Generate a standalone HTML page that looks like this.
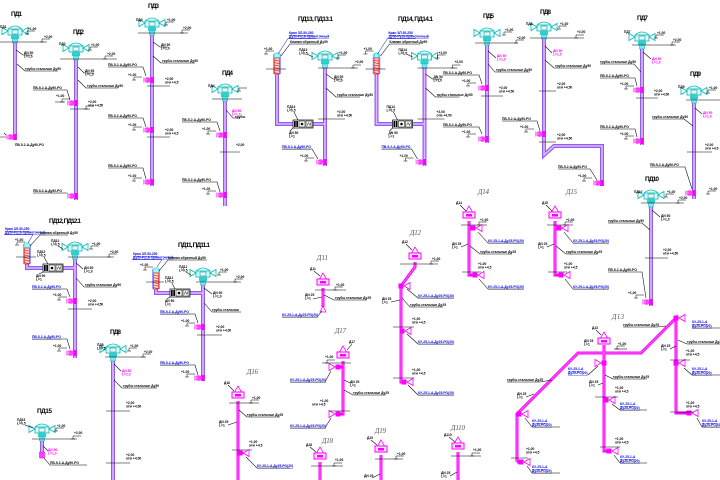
<!DOCTYPE html>
<html><head><meta charset="utf-8">
<style>
html,body{margin:0;padding:0;background:#fff;width:720px;height:480px;overflow:hidden}
svg{display:block}
.k{stroke:#000;stroke-width:.55;fill:none}
.s{font-family:"Liberation Sans",sans-serif;font-size:3.3px;font-weight:bold;fill:#000}
.sb{font-family:"Liberation Sans",sans-serif;font-size:3.3px;font-weight:bold;fill:#0000e0;text-decoration:underline}
.sm{font-family:"Liberation Sans",sans-serif;font-size:3.3px;font-weight:bold;fill:#ff00ff}
.ti{font-family:"Liberation Sans",sans-serif;font-size:6.5px;font-weight:bold;fill:#000}
.td{font-family:"Liberation Serif",serif;font-size:7px;font-style:italic;fill:#555}
.pd{stroke:#8a60f0;stroke-width:4;fill:none}
.pdi{stroke:#eab8ff;stroke-width:1.6;fill:none}
.dm{stroke:#ff00ff;stroke-width:3;fill:none}
.dmi{stroke:#ff7dff;stroke-width:.8;fill:none}
.bl{stroke:#0000e0;stroke-width:.5;fill:none}
</style></head>
<body>
<svg width="720" height="480" viewBox="0 0 720 480" xmlns="http://www.w3.org/2000/svg">
<defs>
 <g id="hc">
  <path d="M-7,-4 Q0,-10 7,-4" fill="#dffcfc" stroke="#00b8b8" stroke-width=".8"/>
  <rect x="-7" y="-4" width="14" height="6" fill="#dffcfc" stroke="#00b8b8" stroke-width=".8"/>
  <rect x="-3" y="-3" width="6" height="4" fill="none" stroke="#008080" stroke-width=".5"/>
  <polygon points="-13,-5.5 -13,1.5 -7,-2" fill="none" stroke="#00b8b8" stroke-width=".8"/>
  <polygon points="13,-5.5 13,1.5 7,-2" fill="none" stroke="#00b8b8" stroke-width=".8"/>
  <rect x="-4" y="2" width="8" height="4" fill="#30d0d0"/>
  <rect x="-2.5" y="6" width="5" height="4" fill="#80eaea" stroke="#00b8b8" stroke-width=".5"/>
 </g>
 <g id="hm">
  <polygon points="0,-11 -3.5,-5 3.5,-5" fill="#fff" stroke="#ff00ff" stroke-width=".8"/>
  <rect x="-6" y="-5" width="12" height="6" fill="#ffe8ff" stroke="#ff00ff" stroke-width="1"/>
  <rect x="-3" y="-3" width="6" height="2.5" fill="#ff00ff"/>
 </g>
 <g id="tr">
  <rect x="-2.5" y="-2.5" width="5" height="5" fill="#ff00ff"/>
  <polygon points="3,0 9,-3.5 9,3.5" fill="#fff" stroke="#ff00ff" stroke-width=".8"/>
 </g>
 <g id="tl">
  <rect x="-2.5" y="-2.5" width="5" height="5" fill="#ff00ff"/>
  <polygon points="-3,0 -9,-3.5 -9,3.5" fill="#fff" stroke="#ff00ff" stroke-width=".8"/>
 </g>
 <g id="mv">
  <ellipse cx="-4.5" cy="0" rx="3.3" ry="2.8" fill="#ff40ff"/>
  <polygon points="-9,-3 -9,3 -5,0" fill="#ff90ff"/>
  <rect x="-1.5" y="-3" width="3" height="6" fill="#ff00ff"/>
 </g>
 <g id="lv"><path d="M-2,0 h4 M0,0 v-3 h8" fill="none" stroke="#000" stroke-width=".5"/></g>
 <g id="bx">
  <rect x="0" y="0" width="20" height="8" fill="#fff" stroke="#000" stroke-width=".7"/>
  <rect x="1" y="1" width="4" height="6" fill="#000"/>
  <line x1="3" y1="1" x2="3" y2="7" stroke="#fff" stroke-width=".6"/>
  <rect x="6" y="1" width="6" height="6" fill="none" stroke="#000" stroke-width=".5"/>
  <circle cx="9" cy="4" r="1.3" fill="#000"/>
  <rect x="13" y="1" width="6" height="6" fill="none" stroke="#000" stroke-width=".5"/>
  <path d="M14,5.5 l1.5,-3 l1.5,3 l1,-3" stroke="#000" stroke-width=".5" fill="none"/>
 </g>
 <g id="rh">
  <rect x="-2.2" y="-5" width="4.4" height="5" fill="#9ff" stroke="#00b8b8" stroke-width=".5"/>
  <rect x="-2.5" y="0" width="5" height="16" fill="#ffd8d8" stroke="#e00000" stroke-width=".6"/>
  <path d="M-2.5,2 l5,1.2 M-2.5,4.5 l5,1.2 M-2.5,7 l5,1.2 M-2.5,9.5 l5,1.2 M-2.5,12 l5,1.2 M-2.5,14.5 l5,1.2" stroke="#e00000" stroke-width=".6"/>
  <path d="M-3.4,-4 V16 M3.4,-4 V16" stroke="#2040ff" stroke-width=".5"/>
 </g>
</defs>

<!-- ================= ПД1 ================= -->
<text class="ti" x="11" y="16" textLength="11">ПД1</text>
<path class="pd" d="M15,43V140"/><path class="pdi" d="M15,43V140"/>
<use href="#hc" x="15" y="33"/>
<path class="k" d="M0,42H47 M0,137H8 M4,133 l4,4"/>
<use href="#lv" x="27" y="34"/><text class="s" x="28" y="30">+1,00</text>
<use href="#lv" x="42" y="42"/><text class="s" x="44" y="38">+2,00</text>
<text class="s" x="0" y="28">ПД1</text>
<path class="k" d="M16,50 L23,55 H32 M17,64 L25,71 H58"/>
<text class="s" x="24" y="54">ДN 50</text><text class="s" x="24" y="57.5">L=1,0</text>
<text class="s" x="25" y="70">трубы стальные Ду50</text>
<use href="#mv" x="15" y="137"/>
<text class="s" x="15" y="146">ПВ-5-2-А-Ду50-РО</text>

<!-- ================= ПД2 ================= -->
<text class="ti" x="73" y="34" textLength="11">ПД2</text>
<path class="pd" d="M76,59V200"/><path class="pdi" d="M76,59V200"/>
<use href="#hc" x="76" y="50"/>
<path class="k" d="M60,59H117"/>
<use href="#lv" x="90" y="50"/><text class="s" x="91" y="46">+1,00</text>
<use href="#lv" x="105" y="59"/><text class="s" x="107" y="55">+2,00</text>
<text class="s" x="59" y="45">ПД2</text>
<path class="k" d="M78,67 L84,73 H94 M78,80 L86,88 H118"/>
<text class="s" x="85" y="72">ДN 50</text><text class="s" x="85" y="75.5">L=1,0</text>
<text class="s" x="87" y="87">трубы стальные Ду50</text>
<text class="s" x="33" y="89">ПВ-5-2-А-Ду50-РО</text>
<path class="k" d="M33,90 H67 L70,100 M55,102 h10"/>
<use href="#lv" x="62" y="102"/><text class="s" x="56" y="97">+1,00</text>
<use href="#mv" x="76" y="103"/>
<path class="k" d="M70,109H90"/><use href="#lv" x="86" y="109"/><text class="s" x="88" y="103">+2,00</text><text class="s" x="88" y="106.5">отм +4,50</text>
<text class="s" x="33" y="192">ПВ-5-2-А-Ду50-РО</text>
<path class="k" d="M33,193 H67 L71,197"/>
<use href="#mv" x="76" y="196"/>

<!-- ================= ПД3 ================= -->
<text class="ti" x="148" y="8" textLength="11">ПД3</text>
<path class="pd" d="M152,33V186"/><path class="pdi" d="M152,33V186"/>
<use href="#hc" x="152" y="25"/>
<path class="k" d="M138,33H188"/>
<text class="s" x="136" y="21">ПД3</text>
<use href="#lv" x="166" y="25"/><text class="s" x="167" y="21">+1,00</text>
<use href="#lv" x="182" y="33"/><text class="s" x="183" y="29">+2,00</text>
<path class="k" d="M153,42 L160,47 H168 M153,56 L161,63 H195"/>
<text class="s" x="161" y="46">ДN 50</text><text class="s" x="161" y="49.5">L=1,0</text>
<text class="s" x="162" y="62">трубы стальные Ду50</text>
<text class="s" x="108" y="66">ПВ-5-2-А-Ду50-РО</text><path class="k" d="M108,67H143 L146,76"/>
<text class="s" x="128" y="76">+1,00</text><use href="#lv" x="134" y="80"/>
<use href="#mv" x="152" y="80"/>
<path class="k" d="M147,86H170"/><text class="s" x="165" y="80">+2,00</text><text class="s" x="165" y="83.5">отм +4,5</text>
<text class="s" x="108" y="117">ПВ-5-2-А-Ду50-РО</text><path class="k" d="M108,118H143 L146,127"/>
<text class="s" x="128" y="126">+1,00</text><use href="#lv" x="134" y="130"/>
<use href="#mv" x="152" y="130"/>
<path class="k" d="M147,137H170"/><text class="s" x="165" y="131">+2,00</text><text class="s" x="165" y="134.5">отм +4,5</text>
<text class="s" x="108" y="167">ПВ-5-2-А-Ду50-РО</text><path class="k" d="M108,168H143 L146,179"/>
<text class="s" x="128" y="177">+1,00</text><use href="#lv" x="134" y="181"/>
<use href="#mv" x="152" y="182"/>

<!-- ================= ПД4 ================= -->
<text class="ti" x="222" y="75" textLength="11">ПД4</text>
<path class="pd" d="M225,99V206"/><path class="pdi" d="M225,99V206"/>
<use href="#hc" x="225" y="91"/>
<path class="k" d="M212,99H242"/>
<text class="s" x="208" y="87">ПД4</text>
<use href="#lv" x="239" y="91"/>
<text class="sm" x="232" y="112">ДN 50</text><text class="sm" x="232" y="115.5">L=1,0</text>
<path class="k" d="M226,110 L233,118 H240"/>
<text class="s" x="235" y="118">трубы</text>
<text class="s" x="182" y="121">ПВ-5-2-А-Ду50-РО</text><path class="k" d="M182,122H217 L220,131"/>
<text class="s" x="202" y="130">+1,00</text><use href="#lv" x="208" y="134"/>
<use href="#mv" x="225" y="135"/>
<path class="k" d="M220,152H240"/><text class="s" x="236" y="146">+2,00</text>
<text class="s" x="182" y="181">ПВ-5-2-А-Ду50-РО</text><path class="k" d="M182,182H217 L220,192"/>
<text class="s" x="202" y="190">+1,00</text><use href="#lv" x="208" y="194"/>
<use href="#mv" x="225" y="195"/>

<!-- ================= ПД13 ================= -->
<g id="pd13">
<text class="ti" x="298" y="21" textLength="35">ПД13, ПД13.1</text>
<path class="pd" d="M277,60V124H325 M325,68V166"/><path class="pdi" d="M277,60V124H325 M325,68V166"/>
<use href="#rh" x="277" y="58"/>
<path class="k" d="M266,69H286"/>
<text class="sb" x="289" y="34">Кран ЗЛ-50-250</text><text class="sb" x="289" y="37.5">Ду50-Ру16-прямоточный</text>
<path class="bl" d="M288,38.5H316 M288,38.5 L278,54"/>
<text class="s" x="290" y="43">Клапан обратный Ду50</text><path class="k" d="M290,44H321 M290,44 L281,56"/>
<text class="s" x="264" y="50">+1,00</text><use href="#lv" x="266" y="54"/>
<use href="#hc" x="325" y="58"/>
<path class="k" d="M318,68H358"/>
<text class="s" x="299" y="51">ПД13</text><text class="s" x="299" y="54.5">L=0,5</text>
<path class="k" d="M307,54 L313,57"/>
<use href="#lv" x="338" y="58"/><text class="s" x="339" y="54">+1,00</text>
<use href="#lv" x="353" y="68"/><text class="s" x="355" y="63">+2,00</text>
<path class="k" d="M326,74 L333,79 H342 M326,88 L336,97 H360"/>
<text class="s" x="334" y="78">ДN 50</text><text class="s" x="334" y="81.5">L=1,0</text>
<text class="s" x="337" y="96">трубы стальные Ду50</text>
<use href="#bx" x="293" y="120"/>
<text class="s" x="287" y="108">ПД13</text><text class="s" x="287" y="111.5">L=0,5</text>
<path class="k" d="M294,112 L298,120 M293,128 L290,131"/>
<text class="s" x="289" y="134">ДN 50</text><text class="s" x="289" y="137.5">L=1</text>
<path class="k" d="M318,119H345"/><text class="s" x="337" y="113">+2,00</text><text class="s" x="337" y="116.5">отм +4,50</text>
<text class="sb" x="282" y="148">ПВ-5-2-А-Ду50-РО</text>
<path class="k" d="M282,149H312 L318,159"/>
<text class="s" x="300" y="157">+1,00</text><use href="#lv" x="306" y="161"/>
<use href="#mv" x="325" y="162"/>
</g>

<!-- ================= ПД14 ================= -->
<g transform="translate(99.5,0)">
<path class="pd" d="M277,60V124H325 M325,68V166"/><path class="pdi" d="M277,60V124H325 M325,68V166"/>
<use href="#rh" x="277" y="58"/>
<path class="k" d="M266,69H286"/>
<text class="sb" x="289" y="34">Кран ЗЛ-50-250</text><text class="sb" x="289" y="37.5">Ду50-Ру16-прямоточный</text>
<path class="bl" d="M288,38.5H316 M288,38.5 L278,54"/>
<text class="s" x="290" y="43">Клапан обратный Ду50</text><path class="k" d="M290,44H321 M290,44 L281,56"/>
<text class="s" x="264" y="50">+1,00</text><use href="#lv" x="266" y="54"/>
<use href="#hc" x="325" y="58"/>
<path class="k" d="M318,68H358"/>
<text class="s" x="299" y="51">ПД14</text><text class="s" x="299" y="54.5">L=0,5</text>
<path class="k" d="M307,54 L313,57"/>
<use href="#lv" x="338" y="58"/><text class="s" x="339" y="54">+1,00</text>
<use href="#lv" x="353" y="68"/><text class="s" x="355" y="63">+2,00</text>
<path class="k" d="M326,74 L333,79 H342 M326,88 L336,97 H360"/>
<text class="s" x="334" y="78">ДN 50</text><text class="s" x="334" y="81.5">L=1,0</text>
<text class="s" x="337" y="96">трубы стальные Ду50</text>
<use href="#bx" x="293" y="120"/>
<text class="s" x="287" y="108">ПД14</text><text class="s" x="287" y="111.5">L=0,5</text>
<path class="k" d="M294,112 L298,120 M293,128 L290,131"/>
<text class="s" x="289" y="134">ДN 50</text><text class="s" x="289" y="137.5">L=1</text>
<path class="k" d="M318,119H345"/><text class="s" x="337" y="113">+2,00</text><text class="s" x="337" y="116.5">отм +4,50</text>
<text class="sb" x="282" y="148">ПВ-5-2-А-Ду50-РО</text>
<path class="k" d="M282,149H312 L318,159"/>
<text class="s" x="300" y="157">+1,00</text><use href="#lv" x="306" y="161"/>
<use href="#mv" x="325" y="162"/>
</g>
<text class="ti" x="398" y="21" textLength="35">ПД14, ПД14.1</text>
<!-- labels left of ПД5 -->
<text class="s" x="443" y="74">ПВ-5-2-А-Ду50-РО</text><path class="k" d="M443,75H479 L482,84"/>
<text class="s" x="462" y="82">+1,00</text><use href="#lv" x="468" y="86"/>
<text class="s" x="443" y="126">ПВ-5-2-А-Ду50-РО</text><path class="k" d="M443,127H479 L482,134"/>
<text class="s" x="462" y="133">+1,00</text><use href="#lv" x="468" y="137"/>

<!-- ================= ПД5 ================= -->
<text class="ti" x="483" y="18" textLength="11">ПД5</text>
<path class="pd" d="M487,43V143"/><path class="pdi" d="M487,43V143"/>
<use href="#hc" x="487" y="35"/>
<path class="k" d="M475,43H518"/>
<use href="#lv" x="504" y="35"/><text class="s" x="505" y="31">+1,00</text>
<use href="#lv" x="516" y="43"/><text class="s" x="517" y="39">+2,00</text>
<path class="k" d="M488,51 L496,58 M488,64 L495,72 H530"/>
<text class="sm" x="497" y="57">ДN 50</text><text class="sm" x="497" y="60.5">L=1,0</text>
<text class="s" x="496" y="71">трубы стальные Ду50</text>
<use href="#mv" x="487" y="88"/>
<path class="k" d="M481,96H503"/><text class="s" x="499" y="89">+2,00</text><text class="s" x="499" y="92.5">отм +4,50</text>
<use href="#mv" x="487" y="139"/>

<!-- ================= ПД8 (top) ================= -->
<text class="ti" x="540" y="14" textLength="11">ПД8</text>
<path class="pd" d="M544,38V155L554,146H602V186"/><path class="pdi" d="M544,38V155L554,146H602V186"/>
<use href="#hc" x="544" y="29"/>
<path class="k" d="M530,38H584"/>
<text class="s" x="526" y="25">ПД8</text>
<use href="#lv" x="559" y="29"/><text class="s" x="560" y="25">+1,00</text>
<use href="#lv" x="576" y="38"/><text class="s" x="577" y="33">+2,00</text>
<path class="k" d="M545,46 L552,53 M545,60 L554,68 H587"/>
<text class="sm" x="553" y="52">ДN 50</text><text class="sm" x="553" y="55.5">L=1,0</text>
<text class="s" x="555" y="67">трубы стальные Ду50</text>
<path class="k" d="M539,91H556"/><text class="s" x="557" y="85">+2,00</text><text class="s" x="557" y="88.5">отм +4,50</text>
<text class="s" x="502" y="120">ПВ-5-2-А-Ду50-РО</text><path class="k" d="M502,121H537 L540,131"/>
<text class="s" x="520" y="128">+1,00</text><use href="#lv" x="526" y="132"/>
<use href="#mv" x="544" y="134"/>
<path class="k" d="M539,142H556"/><text class="s" x="557" y="136">+2,00</text><text class="s" x="557" y="139.5">отм +4,50</text>
<text class="s" x="558" y="168">ПВ-5-2-А-Ду50-РО</text><path class="k" d="M558,169H590 L597,180"/>
<text class="s" x="578" y="177">+1,00</text><use href="#lv" x="584" y="181"/>
<use href="#mv" x="602" y="183"/>

<!-- ================= ПД7 ================= -->
<text class="ti" x="637" y="20" textLength="11">ПД7</text>
<path class="pd" d="M642,44V145"/><path class="pdi" d="M642,44V145"/>
<use href="#hc" x="642" y="39"/>
<path class="k" d="M632,45H676"/>
<text class="s" x="624" y="33">ПД7</text>
<use href="#lv" x="656" y="38"/><text class="s" x="657" y="34">+1,00</text>
<use href="#lv" x="672" y="45"/><text class="s" x="673" y="41">+2,00</text>
<path class="k" d="M643,52 L651,59"/>
<text class="sm" x="652" y="60">ДN 50</text><text class="sm" x="652" y="63.5">L=1,0</text>
<text class="s" x="600" y="63">трубы стальные Ду50</text><path class="k" d="M600,64H634 L641,72"/>
<text class="s" x="600" y="77">ПВ-5-2-А-Ду50-РО</text><path class="k" d="M600,78H635 L637,86"/>
<text class="s" x="620" y="85">+1,00</text><use href="#lv" x="626" y="89"/>
<use href="#mv" x="642" y="90"/>
<path class="k" d="M636,98H658"/><text class="s" x="654" y="92">+2,00</text><text class="s" x="654" y="95.5">отм +4,50</text>
<text class="s" x="600" y="128">ПВ-5-2-А-Ду50-РО</text><path class="k" d="M600,129H635 L637,137"/>
<text class="s" x="620" y="135">+1,00</text><use href="#lv" x="626" y="139"/>
<use href="#mv" x="642" y="141"/>

<!-- ================= ПД9 ================= -->
<text class="ti" x="690" y="76" textLength="11">ПД9</text>
<path class="pd" d="M694,100V199"/><path class="pdi" d="M694,100V199"/>
<use href="#hc" x="694" y="93"/>
<path class="k" d="M686,100H720"/>
<text class="s" x="678" y="88">ПД9</text>
<use href="#lv" x="708" y="93"/><text class="s" x="709" y="89">+1,00</text>
<path class="k" d="M695,108 L702,114"/>
<text class="sm" x="703" y="114">ДN 50</text><text class="sm" x="703" y="117.5">L=1,0</text>
<text class="s" x="652" y="118">трубы стальные Ду50</text><path class="k" d="M652,119H684 L693,126"/>
<path class="k" d="M687,152H712"/><text class="s" x="705" y="146">+2,00</text><text class="s" x="705" y="149.5">отм +4,5</text>
<text class="s" x="650" y="166">ПВ-5-2-А-Ду50-РО</text><path class="k" d="M650,167H685 L692,189"/>
<use href="#mv" x="694" y="193"/>
<use href="#lv" x="708" y="194"/><text class="s" x="709" y="190">+1,00</text>

<!-- ================= ПД10 ================= -->
<text class="ti" x="645" y="181" textLength="14">ПД10</text>
<path class="pd" d="M651,202V306"/><path class="pdi" d="M651,202V306"/>
<use href="#hc" x="651" y="197"/>
<path class="k" d="M641,203H684"/>
<text class="s" x="634" y="193">ПД10</text>
<use href="#lv" x="666" y="197"/><text class="s" x="667" y="193">+1,00</text>
<use href="#lv" x="678" y="203"/><text class="s" x="679" y="199">+2,00</text>
<path class="k" d="M652,210 L660,217"/>
<text class="s" x="661" y="217">ДN 50</text><text class="s" x="661" y="220.5">L=1,0</text>
<text class="s" x="608" y="222">трубы стальные Ду50</text><path class="k" d="M608,223H642 L650,230"/>
<path class="k" d="M645,258H668"/><text class="s" x="663" y="251">+2,00</text><text class="s" x="663" y="254.5">отм +4,50</text>
<text class="s" x="608" y="271">ПВ-5-2-А-Ду50-РО</text><path class="k" d="M608,272H642 L646,298"/>
<text class="s" x="628" y="294">+1,00</text><use href="#lv" x="636" y="298"/>
<use href="#mv" x="651" y="302"/>

<!-- ================= ПД12 ================= -->
<text class="ti" x="49" y="223" textLength="32">ПД12, ПД12.1</text>
<path class="pd" d="M27,245V268H75 M75,257V358"/><path class="pdi" d="M27,245V268H75 M75,257V358"/>
<use href="#rh" x="27" y="248"/>
<path class="k" d="M16,257H36"/>
<text class="sb" x="5" y="230">Кран ЗЛ-50-250</text><text class="sb" x="5" y="233.5">Ду50-Ру16-прямоточный</text>
<path class="bl" d="M4,234.5H33 M33,234.5 L28,243"/>
<text class="s" x="40" y="234">Клапан обратный Ду50</text><path class="k" d="M40,235H68 M40,235 L30,246"/>
<text class="s" x="15" y="241">+1,00</text><use href="#lv" x="17" y="245"/>
<use href="#bx" x="43" y="264"/>
<text class="s" x="37" y="253">ПД12</text><text class="s" x="37" y="256.5">L=0,5</text>
<path class="k" d="M44,257 L48,264 M43,272 L39,274"/>
<text class="s" x="36" y="277">ДN 50</text><text class="s" x="36" y="280.5">L=1</text>
<use href="#hc" x="75" y="249"/>
<path class="k" d="M68,257H114"/>
<text class="s" x="51" y="242">ПД12</text><text class="s" x="51" y="245.5">L=0,5</text>
<path class="k" d="M58,246 L63,249"/>
<use href="#lv" x="91" y="249"/><text class="s" x="92" y="245">+1,00</text>
<use href="#lv" x="109" y="257"/><text class="s" x="110" y="253">+2,00</text>
<path class="k" d="M76,263 L83,269 M76,278 L84,287 H117"/>
<text class="s" x="84" y="269">ДN 50</text><text class="s" x="84" y="272.5">L=1,0</text>
<text class="s" x="85" y="286">трубы стальные Ду50</text>
<text class="sb" x="32" y="288">ПВ-5-2-А-Ду50-РО</text><path class="k" d="M32,289H67 L70,297"/>
<text class="s" x="53" y="296">+1,00</text><use href="#lv" x="59" y="300"/>
<use href="#mv" x="75" y="301"/>
<path class="k" d="M68,309H92"/><text class="s" x="88" y="302">+2,00</text><text class="s" x="88" y="305.5">отм +4,50</text>
<text class="sb" x="32" y="338">ПВ-5-2-А-Ду50-РО</text><path class="k" d="M32,339H67 L70,349"/>
<text class="s" x="53" y="347">+1,00</text><use href="#lv" x="59" y="351"/>
<use href="#mv" x="75" y="353"/>

<!-- ================= ПД11 ================= -->
<text class="ti" x="178" y="247" textLength="32">ПД11, ПД11.1</text>
<path class="pd" d="M156,270V293H203 M203,282V381"/><path class="pdi" d="M156,270V293H203 M203,282V381"/>
<use href="#rh" x="156" y="273"/>
<path class="k" d="M146,282H164"/>
<text class="sb" x="133" y="255">Кран ЗЛ-50-250</text><text class="sb" x="133" y="258.5">Ду50-Ру16-прямоточный</text>
<path class="bl" d="M132,259.5H162 M162,259.5 L157,267"/>
<text class="s" x="168" y="259">Клапан обратный Ду50</text><path class="k" d="M168,260H207 M168,260 L159,271"/>
<text class="s" x="140" y="266">+1,00</text><use href="#lv" x="145" y="270"/>
<use href="#bx" x="170" y="289"/>
<text class="s" x="165" y="279">ПД11</text><text class="s" x="165" y="282.5">L=0,5</text>
<path class="k" d="M172,283 L175,289 M170,297 L167,299"/>
<text class="s" x="165" y="302">ДN 50</text><text class="s" x="165" y="305.5">L=1</text>
<use href="#hc" x="203" y="275"/>
<path class="k" d="M196,282H241"/>
<text class="s" x="179" y="268">ПД11</text><text class="s" x="179" y="271.5">L=0,5</text>
<path class="k" d="M186,272 L191,275"/>
<use href="#lv" x="219" y="275"/><text class="s" x="220" y="271">+1,00</text>
<use href="#lv" x="235" y="282"/><text class="s" x="236" y="278">+2,00</text>
<path class="k" d="M204,288 L212,294 M204,303 L212,312 H241"/>
<text class="s" x="213" y="294">ДN 50</text><text class="s" x="213" y="297.5">L=1,0</text>
<text class="s" x="212" y="311">трубы стальные</text>
<text class="sb" x="160" y="313">ПВ-5-2-А-Ду50-РО</text><path class="k" d="M160,314H195 L198,323"/>
<text class="s" x="181" y="322">+1,00</text><use href="#lv" x="187" y="326"/>
<use href="#mv" x="203" y="327"/>
<path class="k" d="M197,335H222"/><text class="s" x="216" y="328">+2,00</text><text class="s" x="216" y="331.5">отм +4,50</text>
<text class="sb" x="160" y="364">ПВ-5-2-А-Ду50-РО</text><path class="k" d="M160,365H195 L198,375"/>
<text class="s" x="181" y="373">+1,00</text><use href="#lv" x="187" y="377"/>
<use href="#mv" x="203" y="378"/>

<!-- ================= ПД8 (bottom) ================= -->
<text class="ti" x="110" y="334" textLength="11">ПД8</text>
<path class="pd" d="M113,356V480"/><path class="pdi" d="M113,356V480"/>
<use href="#hc" x="113" y="351"/>
<path class="k" d="M105,357H146"/>
<text class="s" x="97" y="346">ПД8</text><text class="s" x="97" y="349.5">L=0,5</text>
<use href="#lv" x="129" y="351"/><text class="s" x="130" y="347">+1,00</text>
<use href="#lv" x="143" y="357"/><text class="s" x="144" y="353">+2,00</text>
<path class="k" d="M114,364 L121,371"/>
<text class="sm" x="122" y="372">ДN 50</text><text class="sm" x="122" y="375.5">L=1,0</text>
<path class="k" d="M114,380 L122,388 H157"/><text class="s" x="123" y="387">трубы стальные Ду50</text>
<path class="k" d="M106,411H130"/><text class="s" x="126" y="404">+2,00</text><text class="s" x="126" y="407.5">отм +4,50</text>
<path class="k" d="M106,463H130"/><text class="s" x="126" y="456">+2,00</text><text class="s" x="126" y="459.5">отм +4,50</text>

<!-- ================= ПД15 ================= -->
<text class="ti" x="37" y="413" textLength="15">ПД15</text>
<path class="pd" d="M42,438V452"/><path class="pdi" d="M42,438V452"/>
<use href="#hc" x="42" y="431"/>
<path class="k" d="M32,439H77"/>
<text class="s" x="17" y="421">ПД15</text><text class="s" x="17" y="424.5">L=0,5</text>
<path class="k" d="M25,425 L33,428"/>
<use href="#lv" x="56" y="431"/><text class="s" x="57" y="427">+1,00</text>
<use href="#lv" x="73" y="439"/><text class="s" x="74" y="434">+2,00</text>
<rect x="39.5" y="452" width="5" height="6" fill="#ff40ff" stroke="#ff00ff" stroke-width=".6"/>
<path class="k" d="M43,446 L48,451 M44,458 L50,465 H87"/>
<text class="sm" x="48" y="451">ДN 50</text><text class="sm" x="48" y="454.5">L=1,0</text>
<text class="s" x="50" y="464">ПВ-5-2-А-Ду50-РО</text>

<!-- ================= Д11 ================= -->
<text class="td" x="317" y="260" textLength="11">Д11</text>
<path class="dm" d="M323,288V307"/><path class="dmi" d="M323,288V307"/>
<use href="#hm" x="323" y="284"/>
<path class="k" d="M315,290H346"/>
<text class="s" x="310" y="270">Д11</text><path class="k" d="M314,271 L320,276"/>
<use href="#lv" x="335" y="290"/><text class="s" x="336" y="286">+1,00</text>
<polygon points="323,306 320,312 326,312" fill="#fff" stroke="#ff00ff" stroke-width=".8"/>
<text class="s" x="305" y="296">ДN 25</text><text class="s" x="305" y="299.5">L=1</text>
<path class="k" d="M313,299 L322,297 M324,295 L334,300 H367"/>
<text class="s" x="335" y="299">трубы стальные Ду25</text>
<text class="sb" x="282" y="316">КУ-25-1-А-Ду25-РО(20)</text><path class="k" d="M282,317H317 L322,311"/>

<!-- ================= Д12 ================= -->
<text class="td" x="410" y="235" textLength="11">Д12</text>
<path class="dm" d="M415,262V267L401,286V382H405"/><path class="dmi" d="M415,262V267L401,286V382"/>
<use href="#hm" x="415" y="258"/>
<path class="k" d="M400,264H438"/>
<text class="s" x="402" y="243">Д12</text><path class="k" d="M406,244 L412,250"/>
<use href="#lv" x="431" y="264"/><text class="s" x="432" y="260">+1,00</text>
<use href="#tr" x="401" y="286"/>
<use href="#tr" x="402" y="331"/>
<use href="#tr" x="404" y="382"/>
<text class="sb" x="418" y="297">КУ-25-1-А-Ду25-РО(20)</text><path class="k" d="M418,298H453 M418,298 L407,289"/>
<text class="s" x="382" y="300">ДN 25</text><text class="s" x="382" y="303.5">L=1</text>
<path class="k" d="M391,302 L400,300 M402,298 L410,307 H443"/>
<text class="s" x="410" y="306">трубы стальные Ду25</text>
<path class="k" d="M393,327H414"/><text class="s" x="412" y="320">+1,00</text><text class="s" x="412" y="323.5">отм +4,5</text>
<text class="sb" x="418" y="343">КУ-25-1-А-Ду25-РО(20)</text><path class="k" d="M418,344H453 M418,344 L407,334"/>
<path class="k" d="M393,378H414"/><text class="s" x="412" y="371">+1,00</text><text class="s" x="412" y="374.5">отм +4,5</text>
<text class="sb" x="418" y="394">КУ-25-1-А-Ду25-РО(20)</text><path class="k" d="M418,395H453 M418,395 L408,385"/>

<!-- ================= Д14 ================= -->
<text class="td" x="478" y="194" textLength="11">Д14</text>
<path class="dm" d="M469,221V275H476"/><path class="dmi" d="M469,221V275"/>
<use href="#hm" x="469" y="217"/>
<path class="k" d="M461,225H487"/>
<text class="s" x="456" y="204">Д14</text><path class="k" d="M460,205 L466,211"/>
<use href="#lv" x="479" y="225"/><text class="s" x="480" y="221">+1,00</text>
<use href="#tr" x="473" y="228"/>
<use href="#tr" x="475" y="275"/>
<text class="sb" x="488" y="242">КУ-25-1-А-Ду25-РО(20)</text><path class="k" d="M488,243H523 M488,243 L478,232"/>
<text class="s" x="452" y="245">ДN 25</text><text class="s" x="452" y="248.5">L=1</text>
<path class="k" d="M461,247 L468,244 M470,246 L480,254 H512"/>
<text class="s" x="480" y="253">трубы стальные Ду25</text>
<path class="k" d="M462,272H481"/><text class="s" x="478" y="265">+1,00</text><text class="s" x="478" y="268.5">отм +4,5</text>
<text class="sb" x="488" y="288">КУ-25-1-А-Ду25-РО(20)</text><path class="k" d="M488,289H523 M488,289 L479,279"/>

<!-- ================= Д15 ================= -->
<text class="td" x="566" y="194" textLength="11">Д15</text>
<path class="dm" d="M555,221V275H561"/><path class="dmi" d="M555,221V275"/>
<use href="#hm" x="555" y="217"/>
<path class="k" d="M547,225H573"/>
<text class="s" x="542" y="204">Д15</text><path class="k" d="M546,205 L552,211"/>
<use href="#lv" x="565" y="225"/><text class="s" x="566" y="221">+1,00</text>
<use href="#tr" x="559" y="228"/>
<use href="#tr" x="561" y="275"/>
<text class="sb" x="573" y="242">КУ-25-1-А-Ду25-РО(20)</text><path class="k" d="M573,243H608 M573,243 L564,232"/>
<text class="s" x="538" y="245">ДN 25</text><text class="s" x="538" y="248.5">L=1</text>
<path class="k" d="M547,247 L554,244 M556,246 L566,254 H598"/>
<text class="s" x="566" y="253">трубы стальные Ду25</text>
<path class="k" d="M548,272H567"/><text class="s" x="564" y="265">+1,00</text><text class="s" x="564" y="268.5">отм +4,5</text>
<text class="sb" x="573" y="288">КУ-25-1-А-Ду25-РО(20)</text><path class="k" d="M573,289H608 M573,289 L565,279"/>

<!-- ================= Д17 ================= -->
<text class="td" x="335" y="333" textLength="11">Д17</text>
<path class="dm" d="M343,361V414H337"/><path class="dmi" d="M343,361V414"/>
<path class="dm" d="M343,367H338"/>
<use href="#hm" x="343" y="357"/>
<path class="k" d="M322,363H351"/>
<text class="s" x="349" y="343">Д17</text><path class="k" d="M352,344 L347,350"/>
<use href="#lv" x="327" y="363"/><text class="s" x="325" y="358">+1,00</text>
<use href="#tl" x="338" y="367"/>
<use href="#tl" x="338" y="414"/>
<text class="sb" x="290" y="381">КУ-25-1-А-Ду25-РО(20)</text><path class="k" d="M290,382H325 L331,371"/>
<text class="s" x="350" y="383">ДN 25</text><text class="s" x="350" y="386.5">L=1</text>
<path class="k" d="M344,380 L350,383 M344,390 L353,395 H386"/>
<text class="s" x="353" y="394">трубы стальные Ду25</text>
<path class="k" d="M329,411H350"/><text class="s" x="320" y="402">+1,00</text><text class="s" x="312" y="405.5">отм +4,5</text>
<text class="sb" x="290" y="427">КУ-25-1-А-Ду25-РО(20)</text><path class="k" d="M290,428H325 L331,418"/>

<!-- ================= Д16 ================= -->
<text class="td" x="247" y="374" textLength="11">Д16</text>
<path class="dm" d="M238,401V480 M238,453H243"/><path class="dmi" d="M238,401V480"/>
<use href="#hm" x="238" y="397"/>
<path class="k" d="M229,403H259"/>
<text class="s" x="224" y="384">Д16</text><path class="k" d="M228,385 L234,391"/>
<use href="#lv" x="251" y="403"/><text class="s" x="252" y="399">+1,00</text>
<path class="k" d="M239,410 L247,417 H280"/><text class="s" x="247" y="416">трубы стальные Ду25</text>
<text class="s" x="219" y="423">ДN 25</text><text class="s" x="219" y="426.5">L=1</text><path class="k" d="M228,425 L237,422"/>
<path class="k" d="M232,450H252"/><text class="s" x="249" y="443">+1,00</text><text class="s" x="249" y="446.5">отм +4,5</text>
<use href="#tr" x="240" y="453"/>
<text class="sb" x="257" y="467">КУ-25-1-А-Ду25-РО(20)</text><path class="k" d="M257,468H290 M257,468 L246,457"/>

<!-- ================= Д18 ================= -->
<text class="td" x="322" y="443" textLength="11">Д18</text>
<path class="dm" d="M320,462V480"/><path class="dmi" d="M320,462V480"/>
<use href="#hm" x="320" y="458"/>
<path class="k" d="M311,466H343"/>
<text class="s" x="306" y="446">Д18</text><path class="k" d="M310,447 L316,452"/>
<use href="#lv" x="334" y="466"/><text class="s" x="335" y="461">+1,00</text>

<!-- ================= Д19 ================= -->
<text class="td" x="375" y="433" textLength="11">Д19</text>
<path class="dm" d="M381,455V480"/><path class="dmi" d="M381,455V480"/>
<use href="#hm" x="381" y="451"/>
<path class="k" d="M375,459H403"/>
<text class="s" x="367" y="439">Д19</text><path class="k" d="M371,440 L377,445"/>
<use href="#lv" x="396" y="459"/><text class="s" x="397" y="455">+1,00</text>
<text class="s" x="364" y="477">ДN 25</text><path class="k" d="M372,478 L380,474"/>

<!-- ================= Д110 ================= -->
<text class="td" x="451" y="430" textLength="14">Д110</text>
<path class="dm" d="M458,452V480"/><path class="dmi" d="M458,452V480"/>
<use href="#hm" x="458" y="448"/>
<path class="k" d="M451,456H481"/>
<text class="s" x="444" y="436">Д110</text><path class="k" d="M449,437 L455,442"/>
<use href="#lv" x="472" y="456"/><text class="s" x="473" y="451">+1,00</text>
<text class="s" x="441" y="474">ДN 25</text><text class="s" x="441" y="477.5">L=1</text><path class="k" d="M450,476 L457,472"/>

<!-- ================= Д13 ================= -->
<text class="td" x="612" y="319" textLength="12">Д13</text>
<path class="dm" d="M517,462V414L578,353H641L676,318V413H691 M604,345V451H611 M517,462H523"/>
<path class="dmi" d="M517,462V414L578,353H641L676,318V413 M604,345V451"/>
<use href="#hm" x="604" y="343"/>
<text class="s" x="592" y="329">Д13</text><path class="k" d="M596,330 L601,335"/>
<text class="s" x="584" y="342">ДN 25</text><text class="s" x="584" y="345.5">L=1</text>
<path class="k" d="M614,349H627"/><use href="#lv" x="617" y="349"/><text class="s" x="618" y="345">+1,00</text>
<text class="s" x="623" y="326">трубы стальные Ду25</text><path class="k" d="M623,327H657 L666,326"/>
<text class="s" x="687" y="343">трубы стальные Ду25</text><path class="k" d="M687,344H720 M687,344 L678,340"/>
<text class="s" x="613" y="378">трубы стальные Ду25</text><path class="k" d="M613,379H647 M613,379 L605,375"/>
<text class="s" x="507" y="381">трубы стальные Ду25</text><path class="k" d="M507,382H540 L552,380"/>
<text class="s" x="661" y="347">ДN 25</text><text class="s" x="661" y="350.5">L=1</text><path class="k" d="M670,349 L676,346"/>
<text class="s" x="589" y="383">ДN 25</text><text class="s" x="589" y="386.5">L=1</text><path class="k" d="M598,385 L603,383"/>
<text class="s" x="517" y="395">ДN 25</text><text class="s" x="517" y="398.5">L=1</text><path class="k" d="M526,397 L534,394"/>
<use href="#tr" x="676" y="318"/>
<use href="#tr" x="676" y="363"/>
<use href="#tr" x="689" y="413"/>
<use href="#tl" x="604" y="363"/>
<use href="#tr" x="606" y="400"/>
<use href="#tr" x="609" y="451"/>
<use href="#tr" x="519" y="414"/>
<use href="#tr" x="521" y="462"/>
<path class="k" d="M595,397H618 M600,447H620 M670,360H690 M670,412H694 M511,458H528"/>
<text class="s" x="615" y="389">+1,00</text><text class="s" x="615" y="392.5">отм +4,5</text>
<text class="s" x="615" y="440">+1,00</text><text class="s" x="615" y="443.5">отм +4,5</text>
<text class="s" x="686" y="352">+1,00</text><text class="s" x="686" y="355.5">отм +4,5</text>
<text class="s" x="686" y="404">+1,00</text><text class="s" x="686" y="407.5">отм +4,5</text>
<text class="s" x="526" y="450">+1,00</text><text class="s" x="526" y="453.5">отм +4,5</text>
<text class="sb" x="568" y="370">КУ-25-1-А</text><text class="sb" x="568" y="374">Ду25-РО(20)</text><path class="k" d="M588,375 L598,366"/>
<text class="sb" x="620" y="405">КУ-25-1-А</text><text class="sb" x="620" y="409">Ду25-РО(20)</text><path class="k" d="M620,410H647 M620,410 L612,404"/>
<text class="sb" x="620" y="458">КУ-25-1-А</text><text class="sb" x="620" y="462">Ду25-РО(20)</text><path class="k" d="M620,463H647 M620,463 L614,455"/>
<text class="sb" x="692" y="323">КУ-25-1-А</text><text class="sb" x="692" y="327">Ду25-РО(20)</text><path class="k" d="M692,328H720"/>
<text class="sb" x="692" y="370">КУ-25-1-А</text><text class="sb" x="692" y="374">Ду25-РО(20)</text><path class="k" d="M692,375H720 M692,375 L684,368"/>
<text class="sb" x="702" y="422">КУ-25-1-А</text><text class="sb" x="702" y="426">Ду25-РО(20)</text><path class="k" d="M702,427H720 M702,427 L697,418"/>
<text class="sb" x="532" y="422">КУ-25-1-А</text><text class="sb" x="532" y="426">Ду25-РО(20)</text><path class="k" d="M532,427H560 M532,427 L525,418"/>
<text class="sb" x="532" y="468">КУ-25-1-А</text><text class="sb" x="532" y="472">Ду25-РО(20)</text><path class="k" d="M532,473H560 M532,473 L527,466"/>
</svg>
</body></html>
